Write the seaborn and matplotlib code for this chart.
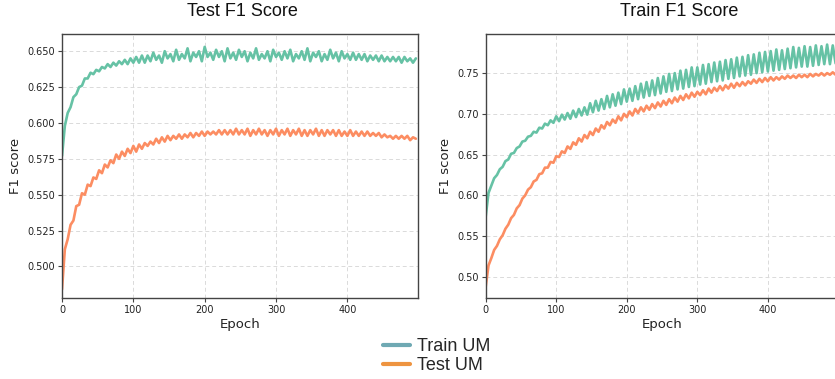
import numpy as np
import pandas as pd
import matplotlib
matplotlib.use("Agg")
import matplotlib.pyplot as plt
from matplotlib.lines import Line2D
import seaborn as sns

# ---------------- data (one value every 4 epochs) ----------------
epochs = np.arange(0, 500, 4)

test_panel_train = [
    .577, .598, .607, .611, .618, .620, .625, .626, .631, .631,
    .635, .634, .637, .636, .639, .638, .641, .639, .642, .640,
    .643, .641, .644, .641, .645, .642, .646, .642, .647, .642,
    .647, .643, .649, .644, .647, .642, .650, .645, .648, .643,
    .651, .644, .648, .645, .652, .643, .649, .646, .650, .643,
    .653, .646, .649, .644, .651, .646, .650, .643, .652, .645,
    .649, .644, .651, .646, .650, .643, .649, .645, .652, .644,
    .648, .645, .650, .643, .651, .646, .649, .644, .650, .645,
    .651, .643, .648, .645, .650, .644, .652, .643, .649, .646,
    .650, .643, .648, .644, .651, .645, .649, .643, .650, .645,
    .648, .644, .649, .644, .648, .644, .648, .643, .647, .644,
    .647, .643, .647, .643, .646, .643, .646, .643, .646, .642,
    .646, .643, .645, .642, .645,
]
test_panel_test = [
    .484, .512, .519, .529, .532, .542, .543, .551, .550, .557,
    .556, .562, .561, .567, .565, .571, .569, .574, .572, .578,
    .575, .580, .577, .582, .579, .584, .580, .585, .582, .586,
    .584, .587, .585, .589, .586, .590, .587, .591, .588, .591,
    .589, .592, .589, .592, .590, .593, .590, .593, .591, .594,
    .591, .594, .592, .594, .592, .595, .592, .595, .592, .595,
    .592, .596, .592, .595, .592, .596, .591, .595, .592, .596,
    .592, .595, .591, .595, .592, .596, .591, .595, .592, .596,
    .591, .595, .592, .596, .591, .595, .591, .595, .592, .596,
    .591, .595, .591, .595, .592, .595, .591, .595, .591, .594,
    .591, .595, .591, .594, .591, .594, .591, .594, .591, .593,
    .591, .593, .590, .592, .590, .591, .589, .591, .589, .591,
    .589, .591, .588, .590, .589,
]
train_panel_train = [
    .574, .603, .612, .621, .625, .632, .635, .642, .644, .651,
    .652, .658, .660, .666, .667, .672, .673, .678, .677, .683,
    .682, .688, .686, .692, .689, .697, .691, .699, .693, .701,
    .694, .704, .696, .706, .698, .708, .699, .713, .702, .716,
    .704, .718, .706, .722, .708, .724, .710, .726, .712, .730,
    .715, .731, .716, .734, .718, .737, .720, .739, .722, .741,
    .723, .744, .725, .746, .727, .749, .728, .750, .730, .753,
    .731, .754, .733, .757, .734, .757, .736, .760, .737, .761,
    .739, .763, .740, .764, .741, .766, .743, .767, .744, .769,
    .746, .770, .747, .772, .748, .773, .750, .775, .751, .776,
    .752, .777, .753, .779, .754, .778, .755, .780, .756, .782,
    .757, .781, .758, .783, .758, .782, .759, .784, .760, .783,
    .761, .785, .761, .784, .762,
]
train_panel_test = [
    .488, .514, .523, .533, .538, .546, .551, .559, .564, .572,
    .576, .584, .588, .596, .600, .607, .610, .617, .619, .626,
    .627, .634, .634, .641, .640, .648, .647, .654, .652, .660,
    .657, .665, .662, .670, .666, .674, .670, .678, .674, .682,
    .678, .686, .682, .690, .686, .693, .689, .697, .692, .700,
    .696, .703, .698, .706, .701, .708, .703, .710, .705, .712,
    .707, .714, .709, .716, .711, .718, .713, .720, .715, .722,
    .717, .724, .719, .726, .721, .727, .723, .729, .724, .731,
    .726, .732, .728, .734, .729, .735, .731, .737, .732, .738,
    .734, .739, .735, .740, .737, .742, .738, .743, .739, .744,
    .740, .745, .741, .745, .742, .746, .743, .747, .744, .747,
    .744, .748, .745, .748, .745, .749, .746, .749, .747, .750,
    .747, .750, .748, .751, .748,
]

series_names = ["Train UM", "Test UM"]
panel_titles = ["Test F1 Score", "Train F1 Score"]
left_yticks = [0.500, 0.525, 0.550, 0.575, 0.600, 0.625, 0.650]
right_yticks = [0.50, 0.55, 0.60, 0.65, 0.70, 0.75]
xticks = [0, 100, 200, 300, 400]

line_colors = {"Train UM": "#66c2a5", "Test UM": "#fc8d62"}
legend_colors = {"Train UM": "#6fa9b3", "Test UM": "#ee9440"}

def make_df(train_vals, test_vals):
    return pd.concat([
        pd.DataFrame({"epoch": epochs, "f1": train_vals, "series": "Train UM"}),
        pd.DataFrame({"epoch": epochs, "f1": test_vals, "series": "Test UM"}),
    ], ignore_index=True)

df_left = make_df(test_panel_train, test_panel_test)
df_right = make_df(train_panel_train, train_panel_test)

# ---------------- figure ----------------
sns.set_theme(style="ticks")
plt.rcParams["font.family"] = ["DejaVu Sans"]

W, H = 835, 379
fig = plt.figure(figsize=(W / 100, H / 100), dpi=100)
ax1 = fig.add_axes([62 / W, 1 - 298 / H, 356 / W, 264 / H])
ax2 = fig.add_axes([485.7 / W, 1 - 298 / H, 352 / W, 264 / H])

for ax, df, ylim, yt, fmt in [
    (ax1, df_left, (0.478, 0.662), left_yticks, "{:.3f}"),
    (ax2, df_right, (0.474, 0.798), right_yticks, "{:.2f}"),
]:
    sns.lineplot(data=df, x="epoch", y="f1", hue="series", hue_order=series_names,
                 palette=line_colors, linewidth=1.9, errorbar=None, legend=False, ax=ax)
    ax.set_xlim(0, 499)
    ax.set_ylim(*ylim)
    ax.set_xticks(xticks)
    ax.set_xticklabels([str(t) for t in xticks], fontsize=7)
    ax.set_yticks(yt)
    ax.set_yticklabels([fmt.format(t) for t in yt], fontsize=7)
    ax.grid(True, linestyle=(0, (4, 3)), color="#dadada", linewidth=0.7)
    ax.set_axisbelow(True)
    for s in ax.spines.values():
        s.set_color("#444444")
        s.set_linewidth(1.0)
    ax.tick_params(axis="both", length=3, width=0.8, color="#444444", pad=2, labelcolor="#222222")
    ax.set_xlabel("Epoch", fontsize=9.5, labelpad=2, color="#222222")
    ax.set_ylabel("F1 score", fontsize=9.5, labelpad=4, color="#222222")

fig.text(242 / W, 1 - 12 / H, panel_titles[0], ha="center", va="center",
         fontsize=13, family="Liberation Sans", color="#111111")
fig.text(679 / W, 1 - 12 / H, panel_titles[1], ha="center", va="center",
         fontsize=13, family="Liberation Sans", color="#111111")

handles = [Line2D([0], [0], color=legend_colors[n], lw=3) for n in series_names]
fig.legend(handles, series_names, loc="center", bbox_to_anchor=(437 / W, 1 - 356 / H),
           frameon=False, handlelength=1.5, handletextpad=0.4, labelspacing=0.1,
           prop={"family": "Liberation Sans", "size": 13})

fig.savefig("out.png", dpi=100)
